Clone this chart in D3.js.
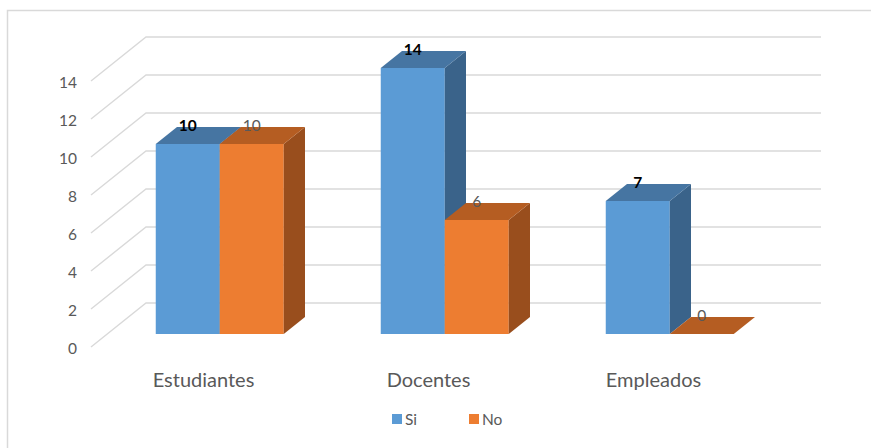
<!DOCTYPE html>
<html>
<head>
<meta charset="utf-8">
<script src="https://cdn.jsdelivr.net/npm/d3@7"></script>
<style>
  html, body { margin: 0; padding: 0; background: #fff; }
  svg { display: block; font-family: Lato, "Open Sans", sans-serif; }
</style>
</head>
<body>
<svg id="chart" width="871" height="448"></svg>
<script>
// ---- data ----
const categories = ["Estudiantes", "Docentes", "Empleados"];
const seriesNames = ["Si", "No"];
const siValues = [10, 14, 7];
const noValues = [10, 6, 0];
const yTicks = [0, 2, 4, 6, 8, 10, 12, 14];

const seriesValues = [siValues, noValues];
const frontColors = ["#5B9BD5", "#ED7D31"];
const topColors = ["#4675A2", "#B55D22"];
const sideColors = ["#3A638A", "#994E1D"];

const svg = d3.select("#chart");

// outer frame
svg.append("rect")
  .attr("x", 7.5).attr("y", 10.5).attr("width", 900).attr("height", 500)
  .attr("fill", "none").attr("stroke", "#d9d9d9").attr("stroke-width", 1.5);

// scales (front floor plane)
const floorLeft = 91, floorRight = 766, floorFront = 347;
const depthDx = 55, depthDy = -44;
const y = d3.scaleLinear().domain([0, 14]).range([floorFront, floorFront - 14 * 19]);
const x = d3.scaleBand().domain(categories).range([floorLeft, floorRight]);
const barW = 64;
const f1 = 13 / 44, f2 = 30 / 44;   // bar depth positions (fraction of floor depth)

// gridlines: left wall diagonal + back wall horizontal
const grid = svg.append("g").attr("stroke", "#d9d9d9").attr("stroke-width", 1.4).attr("fill", "none");
yTicks.forEach(v => {
  const yf = y(v);
  grid.append("path")
    .attr("d", `M${floorLeft},${yf} L${floorLeft + depthDx},${yf + depthDy} L${floorRight + depthDx},${yf + depthDy}`);
});

// y tick labels
svg.append("g").selectAll("text").data(yTicks).join("text")
  .attr("x", 77).attr("y", d => y(d) + 7)
  .attr("text-anchor", "end")
  .attr("font-size", 15.5).attr("fill", "#595959")
  .text(d => d);

// bars
const bars = svg.append("g");
categories.forEach((cat, ci) => {
  const cx = x(cat) + x.bandwidth() / 2;
  seriesValues.forEach((vals, si) => {
    const v = vals[ci];
    const x0 = cx - barW + si * barW + depthDx * f1;
    const x1 = x0 + barW;
    const yb = y(0) + depthDy * f1;
    const yt = y(v) + depthDy * f1;
    const ddx = depthDx * (f2 - f1), ddy = depthDy * (f2 - f1);
    if (v > 0) {
      bars.append("rect").attr("x", x0).attr("y", yt).attr("width", barW).attr("height", yb - yt)
        .attr("fill", frontColors[si]);
      bars.append("path")
        .attr("d", `M${x1},${yt} L${x1 + ddx},${yt + ddy} L${x1 + ddx},${yb + ddy} L${x1},${yb} Z`)
        .attr("fill", sideColors[si]);
    }
    bars.append("path")
      .attr("d", `M${x0},${yt} L${x0 + ddx},${yt + ddy} L${x1 + ddx},${yt + ddy} L${x1},${yt} Z`)
      .attr("fill", topColors[si]);
    // data label
    bars.append("text")
      .attr("x", x0 + barW / 2).attr("y", yt - 13)
      .attr("text-anchor", "middle")
      .attr("font-size", 15.5)
      .attr("font-weight", si === 0 ? "bold" : "normal")
      .attr("fill", si === 0 ? "#000" : "#595959")
      .text(v);
  });
});

// category labels
svg.append("g").selectAll("text").data(categories).join("text")
  .attr("x", d => x(d) + x.bandwidth() / 2).attr("y", 387)
  .attr("text-anchor", "middle")
  .attr("font-size", 20).attr("fill", "#595959")
  .text(d => d);

// legend
const legendX = [392, 469];
const legend = svg.append("g");
seriesNames.forEach((name, i) => {
  legend.append("rect").attr("x", legendX[i]).attr("y", 414).attr("width", 10).attr("height", 10)
    .attr("fill", frontColors[i]);
  legend.append("text").attr("x", legendX[i] + 13).attr("y", 425)
    .attr("font-size", 15.5).attr("fill", "#595959").text(name);
});
</script>
</body>
</html>
